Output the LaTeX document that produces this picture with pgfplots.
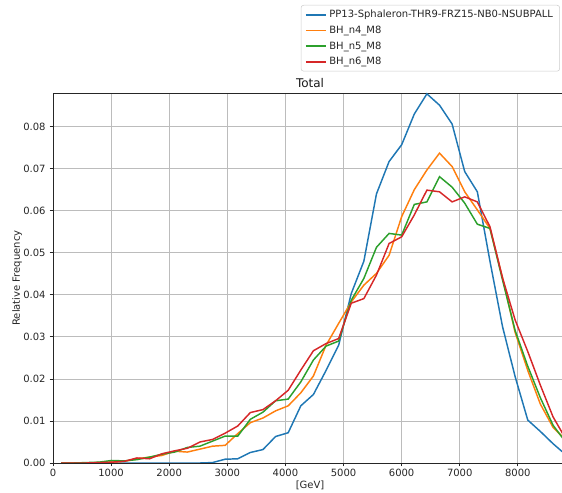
\documentclass[border=0pt]{standalone}
\usepackage{pgfplots}
\pgfplotsset{compat=1.18}
\usepackage{pgfplotstable}
\usepackage{fontspec}
\setmainfont{DejaVu Sans}

\definecolor{tabblue}{HTML}{1F77B4}
\definecolor{taborange}{HTML}{FF7F0E}
\definecolor{tabgreen}{HTML}{2CA02C}
\definecolor{tabred}{HTML}{D62728}
\definecolor{gridgray}{HTML}{B0B0B0}

% relative frequency per mass bin (bin centres in GeV)
\pgfplotstableread{
x     sph     n4      n5      n6
142   0.0000  0.0000  0.0000  0.0000
359   0.0000  0.0000  0.0000  0.0000
576   0.0000  0.0000  0.0001  0.0000
793   0.0000  0.0001  0.0002  0.0001
1010  0.0000  0.0002  0.0006  0.0002
1227  0.0000  0.0004  0.0005  0.0004
1444  0.0000  0.0010  0.0008  0.0012
1661  0.0000  0.0014  0.0014  0.0010
1878  0.0000  0.0018  0.0021  0.0022
2095  0.0000  0.0028  0.0026  0.0029
2312  0.0000  0.0026  0.0037  0.0035
2529  0.0000  0.0033  0.0040  0.0050
2746  0.0001  0.0040  0.0052  0.0056
2963  0.0009  0.0042  0.0064  0.0071
3180  0.0010  0.0070  0.0064  0.0088
3397  0.0025  0.0096  0.0104  0.0120
3614  0.0032  0.0107  0.0121  0.0127
3831  0.0063  0.0124  0.0148  0.0148
4048  0.0072  0.0136  0.0152  0.0173
4265  0.0136  0.0167  0.0193  0.0221
4482  0.0163  0.0207  0.0245  0.0267
4699  0.0220  0.0280  0.0278  0.0284
4916  0.0280  0.0332  0.0290  0.0296
5133  0.0403  0.0383  0.0387  0.0380
5350  0.0480  0.0423  0.0439  0.0391
5567  0.0640  0.0451  0.0513  0.0447
5784  0.0717  0.0494  0.0546  0.0522
6001  0.0757  0.0586  0.0542  0.0538
6218  0.0830  0.0650  0.0615  0.0590
6435  0.0878  0.0697  0.0621  0.0649
6652  0.0851  0.0737  0.0681  0.0645
6869  0.0806  0.0705  0.0656  0.0621
7086  0.0693  0.0645  0.0618  0.0633
7303  0.0645  0.0602  0.0568  0.0621
7520  0.0480  0.0558  0.0558  0.0562
7737  0.0324  0.0440  0.0435  0.0440
7954  0.0205  0.0310  0.0315  0.0340
8171  0.0102  0.0220  0.0230  0.0265
8388  0.0075  0.0140  0.0155  0.0185
8605  0.0046  0.0085  0.0090  0.0110
8822  0.0020  0.0055  0.0050  0.0058
}\masstable

\begin{document}
\fontsize{7.5}{9}\selectfont
\begin{tikzpicture}[x=1pt,y=1pt]
\begin{axis}[
  name=ax,
  scale only axis,
  width=381.75pt, height=277.5pt,
  xmin=0, xmax=8760,
  ymin=0, ymax=0.0880,
  axis x line=box,
  axis y line=left,
  axis line style={black!85, line width=0.6pt, -},
  xtick={0,1000,...,8000},
  ytick={0,0.01,...,0.081},
  scaled y ticks=false,
  /pgf/number format/assume math mode=true,
  xticklabel style={/pgf/number format/set thousands separator={}},
  yticklabel style={/pgf/number format/fixed, /pgf/number format/fixed zerofill,
                    /pgf/number format/precision=2},
  tick align=outside,
  major tick length=2.6pt,
  tick style={black!85, line width=0.6pt},
  xtick pos=bottom, ytick pos=left,
  grid=major,
  grid style={gridgray!85, line width=0.6pt},
  ticklabel style={font=\fontsize{7.5}{9}\selectfont, text=black!85},
  xticklabel style={yshift=0.5pt},
  yticklabel style={xshift=-0.3pt},
  every axis title shift=0pt,
  title={Total},
  title style={at={(axis description cs:0.505,1.027)}, anchor=center,
               font=\fontsize{9}{10}\selectfont, text=black!90},
  xlabel={[GeV]},
  xlabel style={at={(axis description cs:0.505,-0.0595)}, anchor=center,
                font=\fontsize{7.5}{9}\selectfont, text=black!85},
  ylabel={Relative Frequency},
  ylabel style={at={(axis description cs:-0.0707,0.5)}, anchor=center, rotate=0,
                font=\fontsize{7.5}{9}\selectfont, text=black!85},
  legend style={at={(axis description cs:0.996,1.238)}, anchor=north east,
                draw=black!20, rounded corners=2pt, fill=white,
                font=\fontsize{7.5}{9}\selectfont, text=black!85,
                inner xsep=3pt, inner ysep=1.8pt,
                row sep=1pt},
  legend cell align=left,
  every axis plot/.append style={line width=1.1pt},
  legend image code/.code={\draw[#1, line width=1.25pt] (0pt,0pt) -- (15pt,0pt);},
  clip=true,
]
\addplot[tabblue] table[x=x, y=sph] {\masstable};
\addlegendentry{PP13-Sphaleron-THR9-FRZ15-NB0-NSUBPALL}
\addplot[taborange] table[x=x, y=n4] {\masstable};
\addlegendentry{BH\_n4\_M8}
\addplot[tabgreen] table[x=x, y=n5] {\masstable};
\addlegendentry{BH\_n5\_M8}
\addplot[tabred] table[x=x, y=n6] {\masstable};
\addlegendentry{BH\_n6\_M8}
\end{axis}
\pgfresetboundingbox
\path[use as bounding box] (-39.75pt,-22.5pt) rectangle (381.75pt,347.25pt);
\end{tikzpicture}
\end{document}
